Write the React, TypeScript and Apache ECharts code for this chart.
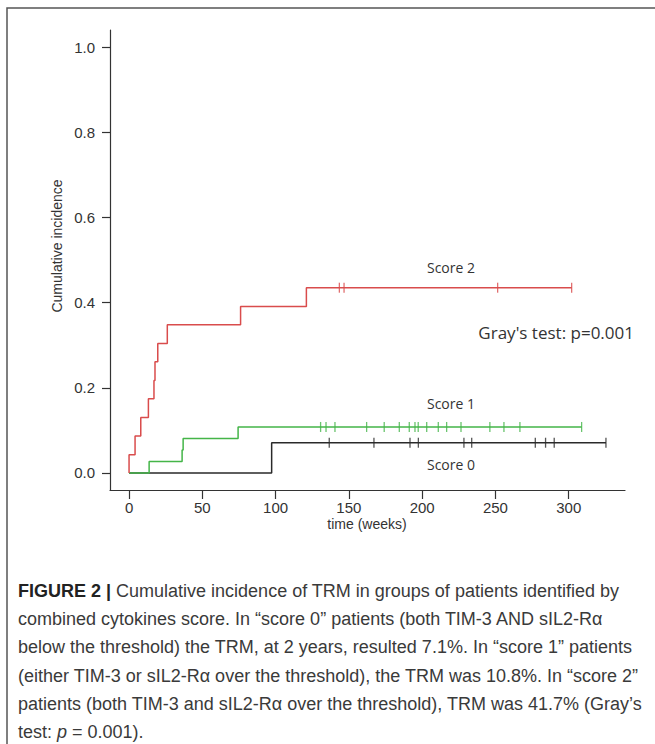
import React, { useEffect, useRef } from "react";
import * as echarts from "echarts";

// ---- data ----
const xTicks = [0, 50, 100, 150, 200, 250, 300];
const yTicks = [0, 0.2, 0.4, 0.6, 0.8, 1.0];

// Score 2 (red)
const score2EventTimes = [0, 4.1, 8, 13.2, 17, 17.7, 19.6, 26.1, 76.1, 121];
const score2Incidence = [0.043, 0.087, 0.13, 0.174, 0.217, 0.261, 0.304, 0.348, 0.391, 0.435];
const score2Censor = [143.5, 146.7, 251.5, 302];

// Score 1 (green)
const score1EventTimes = [13.7, 36.2, 36.9, 74.4];
const score1Incidence = [0.027, 0.054, 0.081, 0.108];
const score1Censor = [130.7, 134.4, 140.5, 162.1, 174.1, 184.4, 191.2, 195.1, 197.3, 203.1, 211, 216.7, 226.5, 246.2, 255.8, 266.7, 308.8];

// Score 0 (black)
const score0EventTimes = [97.3];
const score0Incidence = [0.071];
const score0Censor = [136.6, 167.1, 191.7, 197.4, 228.5, 233.8, 277.2, 284.2, 290.1, 325.4];

const captionLines = [
  "{b|FIGURE 2 |} Cumulative incidence of TRM in groups of patients identified by",
  "combined cytokines score. In “score 0” patients (both TIM-3 AND sIL2-Rα",
  "below the threshold) the TRM, at 2 years, resulted 7.1%. In “score 1” patients",
  "(either TIM-3 or sIL2-Rα over the threshold), the TRM was 10.8%. In “score 2”",
  "patients (both TIM-3 and sIL2-Rα over the threshold), TRM was 41.7% (Gray’s",
  "test: {i|p} = 0.001).",
];

function stepData(times: number[], vals: number[], censor: number[]) {
  const pts: [number, number][] = [[0, 0]];
  times.forEach((t, i) => pts.push([t, vals[i]]));
  const last = vals.length ? vals[vals.length - 1] : 0;
  const end = Math.max(...censor);
  pts.push([end, last]);
  return pts;
}

function levelAt(times: number[], vals: number[], t: number) {
  let v = 0;
  times.forEach((tt, i) => {
    if (tt <= t) v = vals[i];
  });
  return v;
}

function censorData(times: number[], vals: number[], censor: number[]) {
  return censor.map((c) => [c, levelAt(times, vals, c)]);
}

const RED = "#d94c4c";
const GREEN = "#44b548";
const BLACK = "#2a2a2a";
const CAP_FONT = "'Liberation Sans', Arial, sans-serif";
const CAP_SIZE = 18;

export default function App() {
  const ref = useRef<HTMLDivElement>(null);
  useEffect(() => {
    document.body.style.margin = "0";
    const chart = echarts.init(ref.current!, null, { renderer: "svg" });
    const groups = [
      { name: "Score 2", t: score2EventTimes, v: score2Incidence, c: score2Censor, color: RED },
      { name: "Score 1", t: score1EventTimes, v: score1Incidence, c: score1Censor, color: GREEN },
      { name: "Score 0", t: score0EventTimes, v: score0Incidence, c: score0Censor, color: BLACK },
    ];
    const series: any[] = [];
    groups.slice().reverse().forEach((g) => {
      series.push({
        type: "line",
        name: g.name,
        step: "end",
        data: stepData(g.t, g.v, g.c),
        showSymbol: false,
        symbol: "none",
        lineStyle: { color: g.color, width: 1.5 },
        z: 3,
      });
      series.push({
        type: "scatter",
        name: g.name + " censored",
        data: censorData(g.t, g.v, g.c),
        symbol: "rect",
        symbolSize: [1.3, 10],
        itemStyle: { color: g.color },
        z: 4,
      });
    });

    const captionGraphics = captionLines.map((line, i) => ({
      type: "text",
      left: 18,
      top: 582 + i * 28.2,
      style: {
        text: line,
        fontFamily: CAP_FONT,
        fontSize: CAP_SIZE,
        fill: "#3a3a3a",
        rich: {
          b: { fontFamily: CAP_FONT, fontSize: CAP_SIZE, fontWeight: "bold", fill: "#222" },
          i: { fontFamily: CAP_FONT, fontSize: CAP_SIZE, fontStyle: "italic", fill: "#3a3a3a" },
        },
      },
    }));

    chart.setOption({
      animation: false,
      backgroundColor: "#fff",
      grid: { left: 110, top: 30, width: 515, height: 460, containLabel: false },
      xAxis: {
        type: "value",
        min: -13,
        max: 338.4,
        splitLine: { show: false },
        axisLine: { show: true, onZero: false, lineStyle: { color: "#333", width: 1.2 } },
        axisTick: { show: true, length: 9, customValues: xTicks, lineStyle: { color: "#333", width: 1.2 } },
        axisLabel: {
          customValues: xTicks,
          margin: 10,
          color: "#333",
          fontSize: 15,
          fontFamily: "'Liberation Sans', Arial, sans-serif",
        },
      },
      yAxis: {
        type: "value",
        min: -0.04,
        max: 1.04,
        splitLine: { show: false },
        axisLine: { show: true, onZero: false, lineStyle: { color: "#333", width: 1.2 } },
        axisTick: { show: true, length: 8, customValues: yTicks, lineStyle: { color: "#333", width: 1.2 } },
        axisLabel: {
          customValues: yTicks,
          margin: 15,
          color: "#333",
          fontSize: 15,
          fontFamily: "'Liberation Sans', Arial, sans-serif",
          formatter: (v: number) => v.toFixed(1),
        },
      },
      series,
      graphic: [
        {
          type: "rect",
          shape: { x: 7, y: 8, width: 700, height: 800 },
          style: { fill: "none", stroke: "#555", lineWidth: 1.5 },
          silent: true,
        },
        {
          type: "text",
          x: 57,
          y: 246,
          rotation: Math.PI / 2,
          style: {
            text: "Cumulative incidence",
            fontFamily: "'Liberation Sans', Arial, sans-serif",
            fontSize: 14,
            fill: "#333",
            align: "center",
            verticalAlign: "middle",
          },
        },
        {
          type: "text",
          x: 367,
          y: 524,
          style: {
            text: "time (weeks)",
            fontFamily: "'Liberation Sans', Arial, sans-serif",
            fontSize: 14,
            fill: "#333",
            align: "center",
            verticalAlign: "middle",
          },
        },
        {
          type: "text",
          x: 451,
          y: 267,
          style: { text: "Score 2", fontFamily: "'Open Sans', 'Noto Sans', sans-serif", fontSize: 14, fill: "#333", align: "center", verticalAlign: "middle" },
        },
        {
          type: "text",
          x: 451,
          y: 403,
          style: { text: "Score 1", fontFamily: "'Open Sans', 'Noto Sans', sans-serif", fontSize: 14, fill: "#333", align: "center", verticalAlign: "middle" },
        },
        {
          type: "text",
          x: 451,
          y: 464,
          style: { text: "Score 0", fontFamily: "'Open Sans', 'Noto Sans', sans-serif", fontSize: 14, fill: "#333", align: "center", verticalAlign: "middle" },
        },
        {
          type: "text",
          x: 634,
          y: 332,
          style: { text: "Gray's test: p=0.001", fontFamily: "'Open Sans', 'Noto Sans', sans-serif", fontSize: 17, fill: "#333", align: "right", verticalAlign: "middle" },
        },
        ...captionGraphics,
      ],
    });
    return () => chart.dispose();
  }, []);
  return <div ref={ref} style={{ width: 655, height: 744 }} />;
}
